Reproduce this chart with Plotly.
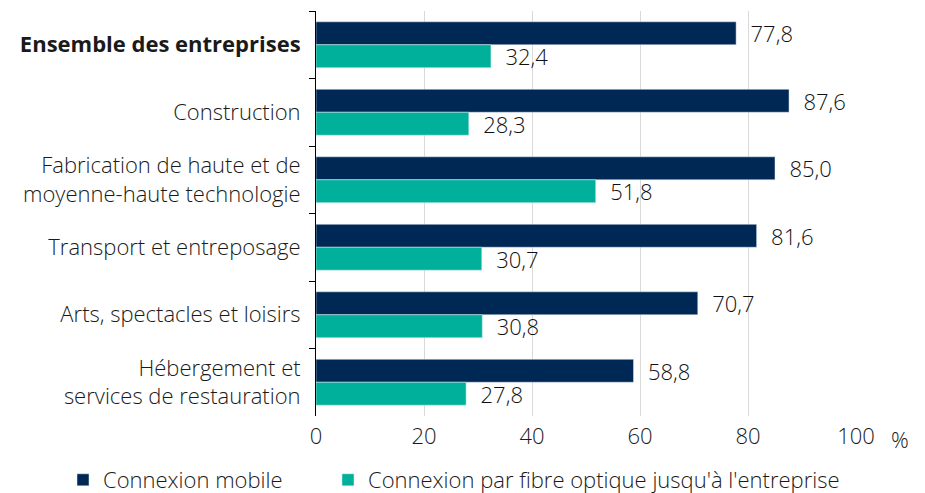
import plotly.graph_objects as go

categories = ["<b>Ensemble des entreprises</b>", "Construction",
              "Fabrication de haute et de<br>moyenne-haute technologie",
              "Transport et entreposage", "Arts, spectacles et loisirs",
              "Hébergement et<br>services de restauration"]
mobile = [77.8, 87.6, 85.0, 81.6, 70.7, 58.8]
fibre = [32.4, 28.3, 51.8, 30.7, 30.8, 27.8]
series_names = ["Connexion mobile", "Connexion par fibre optique jusqu'à l'entreprise"]
x_ticks = [0, 20, 40, 60, 80, 100]

def fmt(v):
    return "\u00a0\u00a0" + f"{v:.1f}".replace(".", ",")

FONT = "Open Sans"
FS = 22
W = 300
TXT = "#1a1a1a"
fig = go.Figure()
fig.add_trace(go.Bar(y=categories, x=mobile, orientation="h", name=series_names[0],
                     marker_color="#002855", text=[fmt(v) for v in mobile],
                     textposition="outside", cliponaxis=False, constraintext="none",
                     legend="legend",
                     textfont=dict(size=FS, color="#111111", family=FONT, weight=W)))
fig.add_trace(go.Bar(y=categories, x=fibre, orientation="h", name=series_names[1],
                     marker_color="#00B09B", text=[fmt(v) for v in fibre],
                     textposition="outside", cliponaxis=False, constraintext="none",
                     legend="legend2",
                     textfont=dict(size=FS, color="#111111", family=FONT, weight=W)))

legend_common = dict(orientation="h", xanchor="left", yanchor="middle", y=-0.158,
                     bgcolor="rgba(0,0,0,0)",
                     font=dict(size=FS, color=TXT, weight=W))
fig.update_layout(
    width=925, height=493,
    margin=dict(l=308, r=77, t=3, b=85, autoexpand=False),
    barmode="group", bargap=0.32, bargroupgap=0,
    plot_bgcolor="white", paper_bgcolor="white",
    font=dict(family=FONT, size=FS, color=TXT, weight=W),
    showlegend=True,
    legend=dict(x=-0.4685, **legend_common),
    legend2=dict(x=0.0222, **legend_common),
    xaxis=dict(range=[0, 100], tickvals=x_ticks, ticktext=[str(t) for t in x_ticks],
               showgrid=True, gridcolor="#d9d9d9", gridwidth=1, zeroline=False,
               automargin=False, ticklabelstandoff=5,
               showline=False, ticks="", tickfont=dict(size=FS, color=TXT, weight=W)),
    yaxis=dict(autorange="reversed", showline=True, linecolor="#000000", linewidth=1,
               automargin=False, ticklabelstandoff=10,
               ticks="outside", tickson="boundaries", ticklen=6, tickcolor="#000000",
               showgrid=False, tickfont=dict(size=FS, color=TXT, weight=W)),
)
fig.add_annotation(text="%", x=1.0, xref="paper", xanchor="left", xshift=33,
                   y=0, yref="paper", yanchor="top", yshift=-6,
                   showarrow=False, font=dict(size=FS, color=TXT, weight=W))
fig.write_html("out.html")
